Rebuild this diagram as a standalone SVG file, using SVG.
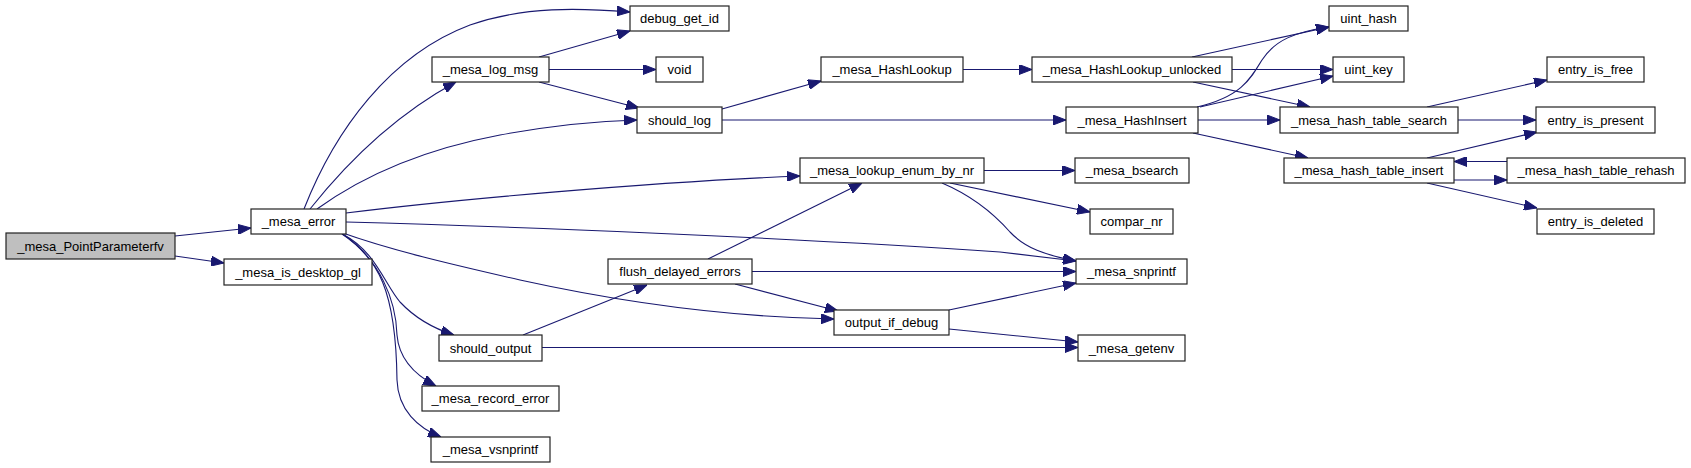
<svg xmlns="http://www.w3.org/2000/svg" width="1691" height="468" viewBox="0 0 1691 468">
<style>
.n rect{fill:#fff;stroke:#222;stroke-width:1.2}
.n text{font-family:"Liberation Sans",Arial,sans-serif;font-size:13px;fill:#000;text-anchor:middle}
#edges path{fill:none;stroke:#191970;stroke-width:1.1;marker-end:url(#ah)}
</style>
<defs>
<marker id="ah" markerUnits="userSpaceOnUse" markerWidth="13" markerHeight="10" refX="13" refY="5" orient="auto">
<path d="M0,0 L13,5 L0,10 z" fill="#191970" stroke="#191970" stroke-width="1"/>
</marker>
</defs>
<rect width="1691" height="468" fill="#fff"/>
<g id="edges">
<path d="M175,236 L251,228"/>
<path d="M175,256 L224,263"/>
<path d="M304,209 C335,130 390,55 470,25 C525,6 580,8 630,12"/>
<path d="M310,209 C345,165 395,115 456,82"/>
<path d="M317,209 C360,178 420,150 500,135 C560,124 600,121 637,120"/>
<path d="M346,213 C450,200 650,182 800,176"/>
<path d="M346,222 C500,226 800,238 1000,252 L1076,261"/>
<path d="M340,232 C390,250 450,264 520,280 C620,302 730,317 834,319"/>
<path d="M342,234 C375,250 385,285 400,302 C415,318 432,328 454,335"/>
<path d="M343,234 C380,260 396,300 397,335 C399,360 415,375 436,386"/>
<path d="M342,234 C378,258 396,290 397,380 C398,410 418,428 441,437"/>
<path d="M539,57 L630,31"/>
<path d="M549,69.5 L656,69.5"/>
<path d="M539,82 L639,108"/>
<path d="M722,109 L821,81"/>
<path d="M722,120 L1066,120"/>
<path d="M963,69.5 L1032,69.5"/>
<path d="M1192,57 L1329,27"/>
<path d="M1232,69.5 L1333,69.5"/>
<path d="M1193,82 L1310,107"/>
<path d="M1197,107 C1240,97 1250,80 1262,60 C1275,40 1295,32 1329,27"/>
<path d="M1200,107 L1333,76"/>
<path d="M1198,120 L1280,120"/>
<path d="M1193,133 L1308,158"/>
<path d="M984,170.5 L1075,170.5"/>
<path d="M950,183 L1090,212"/>
<path d="M942,183 C975,197 995,215 1010,232 C1025,248 1045,255 1076,261"/>
<path d="M708,259 L862,183"/>
<path d="M752,271.5 L1076,271.5"/>
<path d="M735,284 L838,311"/>
<path d="M523,335 L647,285"/>
<path d="M542,347.5 L1078,347.5"/>
<path d="M949,310 L1076,283"/>
<path d="M949,329 L1078,342"/>
<path d="M1427,107 L1547,80"/>
<path d="M1458,120 L1536,120"/>
<path d="M1427,158 L1537,132"/>
<path d="M1454,180 L1507,180"/>
<path d="M1507,161.5 L1454,161.5"/>
<path d="M1427,183 L1537,208"/>
</g>
<g id="n_PointParameterfv" class="n"><rect x="6" y="233" width="169" height="26" style="fill:#bfbfbf"/><text x="90.5" y="250.5">_mesa_PointParameterfv</text></g>
<g id="n_mesa_error" class="n"><rect x="251" y="209" width="95" height="25"/><text x="298.5" y="226">_mesa_error</text></g>
<g id="n_is_desktop_gl" class="n"><rect x="224" y="259" width="148" height="26"/><text x="298" y="276.5">_mesa_is_desktop_gl</text></g>
<g id="n_debug_get_id" class="n"><rect x="630" y="6" width="99" height="25"/><text x="679.5" y="23">debug_get_id</text></g>
<g id="n_log_msg" class="n"><rect x="432" y="57" width="117" height="25"/><text x="490.5" y="74">_mesa_log_msg</text></g>
<g id="n_void" class="n"><rect x="656" y="57" width="47" height="25"/><text x="679.5" y="74">void</text></g>
<g id="n_should_log" class="n"><rect x="637" y="107" width="85" height="26"/><text x="679.5" y="124.5">should_log</text></g>
<g id="n_lookup_enum" class="n"><rect x="800" y="158" width="184" height="25"/><text x="892" y="175">_mesa_lookup_enum_by_nr</text></g>
<g id="n_HashLookup" class="n"><rect x="821" y="57" width="142" height="25"/><text x="892" y="74">_mesa_HashLookup</text></g>
<g id="n_HashLookup_unlocked" class="n"><rect x="1032" y="57" width="200" height="25"/><text x="1132" y="74">_mesa_HashLookup_unlocked</text></g>
<g id="n_HashInsert" class="n"><rect x="1066" y="107" width="132" height="26"/><text x="1132" y="124.5">_mesa_HashInsert</text></g>
<g id="n_bsearch" class="n"><rect x="1075" y="158" width="114" height="25"/><text x="1132" y="175">_mesa_bsearch</text></g>
<g id="n_compar_nr" class="n"><rect x="1090" y="209" width="83" height="25"/><text x="1131.5" y="226">compar_nr</text></g>
<g id="n_should_output" class="n"><rect x="439" y="335" width="103" height="26"/><text x="490.5" y="352.5">should_output</text></g>
<g id="n_record_error" class="n"><rect x="422" y="386" width="137" height="25"/><text x="490.5" y="403">_mesa_record_error</text></g>
<g id="n_vsnprintf" class="n"><rect x="431" y="437" width="119" height="25"/><text x="490.5" y="454">_mesa_vsnprintf</text></g>
<g id="n_flush" class="n"><rect x="608" y="259" width="144" height="25"/><text x="680" y="276">flush_delayed_errors</text></g>
<g id="n_output_if_debug" class="n"><rect x="834" y="310" width="115" height="25"/><text x="891.5" y="327">output_if_debug</text></g>
<g id="n_snprintf" class="n"><rect x="1076" y="259" width="111" height="25"/><text x="1131.5" y="276">_mesa_snprintf</text></g>
<g id="n_getenv" class="n"><rect x="1078" y="335" width="107" height="26"/><text x="1131.5" y="352.5">_mesa_getenv</text></g>
<g id="n_uint_hash" class="n"><rect x="1329" y="6" width="79" height="25"/><text x="1368.5" y="23">uint_hash</text></g>
<g id="n_uint_key" class="n"><rect x="1333" y="57" width="71" height="25"/><text x="1368.5" y="74">uint_key</text></g>
<g id="n_search" class="n"><rect x="1280" y="107" width="178" height="26"/><text x="1369" y="124.5">_mesa_hash_table_search</text></g>
<g id="n_insert" class="n"><rect x="1284" y="158" width="170" height="25"/><text x="1369" y="175">_mesa_hash_table_insert</text></g>
<g id="n_entry_is_free" class="n"><rect x="1547" y="57" width="97" height="25"/><text x="1595.5" y="74">entry_is_free</text></g>
<g id="n_entry_is_present" class="n"><rect x="1536" y="107" width="119" height="26"/><text x="1595.5" y="124.5">entry_is_present</text></g>
<g id="n_rehash" class="n"><rect x="1507" y="158" width="178" height="25"/><text x="1596" y="175">_mesa_hash_table_rehash</text></g>
<g id="n_entry_is_deleted" class="n"><rect x="1537" y="209" width="117" height="25"/><text x="1595.5" y="226">entry_is_deleted</text></g>
</svg>
